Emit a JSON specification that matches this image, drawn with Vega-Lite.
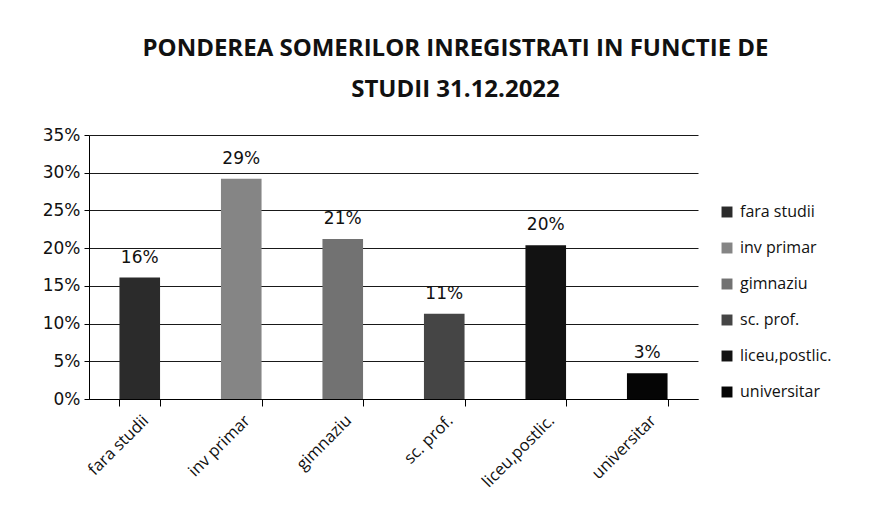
{
  "$schema": "https://vega.github.io/schema/vega-lite/v6.json",
  "width": 609,
  "height": 264,
  "padding": {"left": 42, "top": 37, "right": 10, "bottom": 5},
  "background": "white",
  "title": {
    "text": ["PONDEREA SOMERILOR INREGISTRATI  IN FUNCTIE DE", "STUDII 31.12.2022"],
    "font": "Open Sans",
    "fontSize": 24,
    "fontWeight": "bold",
    "color": "#111",
    "lineHeight": 41,
    "anchor": "middle",
    "dx": 62,
    "offset": 24
  },
  "data": {
    "values": [
      {"studii": "fara studii", "pondere": 0.161},
      {"studii": "inv primar", "pondere": 0.292},
      {"studii": "gimnaziu", "pondere": 0.212},
      {"studii": "sc. prof.", "pondere": 0.113},
      {"studii": "liceu,postlic.", "pondere": 0.204},
      {"studii": "universitar", "pondere": 0.034}
    ]
  },
  "encoding": {
    "x": {
      "field": "studii", "type": "nominal", "sort": null,
      "scale": {"paddingInner": 0.6, "paddingOuter": 0.3},
      "axis": {
        "title": null, "labelAngle": -45, "labelFont": "Open Sans", "labelFontSize": 16.5,
        "labelColor": "#111", "domainColor": "#000", "tickColor": "#000",
        "tickBand": "extent", "tickSize": 7, "labelPadding": 6, "grid": false
      }
    },
    "y": {
      "field": "pondere", "type": "quantitative",
      "scale": {"domain": [0, 0.35]},
      "axis": {
        "title": null, "format": ".0%", "values": [0, 0.05, 0.1, 0.15, 0.2, 0.25, 0.3, 0.35],
        "labelFont": "DejaVu Sans", "labelFontSize": 17, "labelColor": "#111",
        "gridColor": "#000", "gridOpacity": 0.9, "domainColor": "#000", "tickColor": "#000",
        "tickSize": 5, "labelPadding": 4
      }
    }
  },
  "layer": [
    {
      "mark": {"type": "bar"},
      "encoding": {
        "color": {
          "field": "studii", "type": "nominal", "sort": null,
          "scale": {
            "domain": ["fara studii", "inv primar", "gimnaziu", "sc. prof.", "liceu,postlic.", "universitar"],
            "range": ["#2b2b2b", "#858585", "#727272", "#454545", "#121212", "#050505"]
          },
          "legend": {
            "title": null, "orient": "none", "legendX": 630, "legendY": 69,
            "symbolType": "square", "symbolSize": 120, "symbolStrokeWidth": 0,
            "labelFont": "Open Sans", "labelFontSize": 16, "labelColor": "#111",
            "rowPadding": 20, "labelOffset": 5, "labelLimit": 200
          }
        }
      }
    },
    {
      "mark": {"type": "text", "dy": -20, "font": "DejaVu Sans", "fontSize": 17, "color": "#111"},
      "encoding": {
        "text": {"field": "pondere", "type": "quantitative", "format": ".0%"}
      }
    }
  ],
  "config": {
    "view": {"stroke": null}
  }
}
